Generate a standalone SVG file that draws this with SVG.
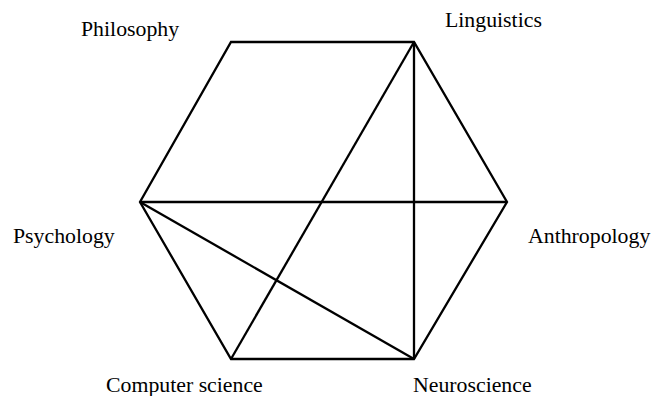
<svg xmlns="http://www.w3.org/2000/svg" width="651" height="396" viewBox="0 0 651 396">
<style>
.e{stroke:#000;stroke-width:2.3;fill:none;stroke-linejoin:miter}
.t{font-family:"Liberation Serif","Times New Roman",serif;font-size:21.8px;fill:#000}
</style>
<rect width="651" height="396" fill="#fff"/>
<g id="connectors">
<polygon class="e" points="231,42 414,42 507,202 414,359 231,359 140,202"/>
<line class="e" x1="414" y1="42" x2="231" y2="359"/>
<line class="e" x1="414" y1="42" x2="414" y2="359"/>
<line class="e" x1="140" y1="202" x2="507" y2="202"/>
<line class="e" x1="140" y1="202" x2="414" y2="359"/>
</g>
<g id="philosophy"><text class="t" x="81" y="36">Philosophy</text></g>
<g id="linguistics"><text class="t" x="445" y="27">Linguistics</text></g>
<g id="psychology"><text class="t" x="13" y="243">Psychology</text></g>
<g id="anthropology"><text class="t" x="528" y="243">Anthropology</text></g>
<g id="computer-science"><text class="t" x="106" y="392">Computer science</text></g>
<g id="neuroscience"><text class="t" x="413" y="392">Neuroscience</text></g>
</svg>
